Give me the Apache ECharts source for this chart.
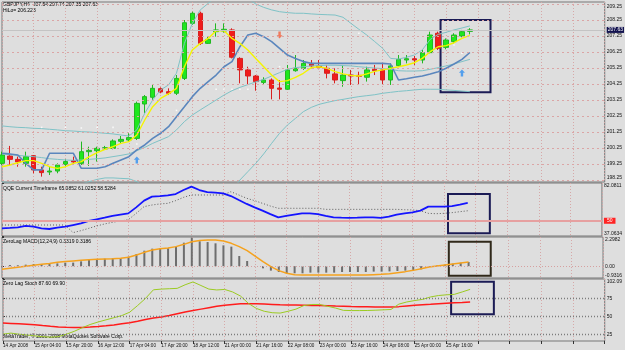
<!DOCTYPE html>
<html>
<head>
<meta charset="utf-8">
<script src="https://cdn.jsdelivr.net/npm/echarts@6/dist/echarts.min.js"></script>
<style>
  html, body { margin: 0; padding: 0; background: #dedede; }
  #chart { width: 625px; height: 350px; }
</style>
</head>
<body>
<div id="chart"></div>
<script>
// x axis labels, one every 4 bars (H4)
const tickLabels = ['14 Apr 2008', '15 Apr 04:00', '15 Apr 20:00', '16 Apr 12:00', '17 Apr 04:00',
  '17 Apr 20:00', '18 Apr 12:00', '21 Apr 00:00', '21 Apr 16:00', '22 Apr 08:00', '23 Apr 00:00',
  '23 Apr 16:00', '24 Apr 08:00', '25 Apr 00:00', '25 Apr 16:00'];
const priceTicks = [198.25, 199.25, 200.25, 201.25, 202.25, 203.25, 204.25, 205.25, 206.25, 207.25, 208.25, 209.25];
const qqeTicks = [37.0634, 82.0811];
const macdTicks = [-0.9316, 0, 2.2982];
const stochTicks = [15.49, 25, 50, 75, 102.09];
const stochLevels = [25, 50, 75];
const bidPrice = 207.63;

// GBPJPY H4 candles
const open = [199.29, 199.75, 199.54, 199.29, 199.77, 198.88, 198.75, 198.81, 199.23, 199.46,
  199.29, 200.02, 200.08, 200.19, 200.23, 200.67, 200.75, 200.85, 203.00, 203.42,
  203.96, 203.77, 203.67, 204.60, 208.04, 208.67, 206.79, 207.52, 207.56, 207.63,
  205.85, 205.13, 204.75, 204.35, 204.50, 204.00, 203.92, 205.08, 205.23, 205.50,
  205.38, 205.23, 204.88, 204.46, 204.81, 204.79, 204.67, 205.17, 205.13, 204.50,
  205.40, 205.75, 205.83, 205.75, 206.21, 207.42, 206.54, 206.90, 207.25, 207.54];
const high = [200.02, 200.38, 199.71, 200.02, 199.81, 199.08, 199.08, 199.29, 199.54, 199.71,
  200.65, 200.33, 200.33, 200.38, 200.79, 201.00, 201.17, 203.15, 203.56, 204.19,
  204.04, 203.98, 204.81, 208.25, 208.77, 208.77, 207.21, 208.04, 208.04, 207.73,
  205.92, 205.33, 204.81, 204.67, 204.60, 204.50, 205.44, 206.06, 205.75, 205.75,
  205.75, 205.44, 205.23, 205.44, 205.13, 205.02, 205.33, 205.44, 205.54, 205.54,
  206.06, 206.06, 206.00, 206.38, 207.52, 207.52, 207.10, 207.42, 207.63, 207.74];
const low = [199.19, 199.19, 199.08, 199.08, 198.67, 198.46, 198.56, 198.67, 199.13, 199.19,
  199.19, 199.13, 199.40, 200.13, 200.17, 200.54, 200.65, 200.75, 202.42, 203.25,
  203.67, 203.56, 203.56, 204.50, 207.94, 206.69, 206.75, 207.21, 207.46, 205.85,
  204.29, 204.19, 203.83, 204.19, 203.29, 203.29, 203.88, 205.02, 205.13, 205.23,
  205.17, 204.60, 204.29, 204.08, 204.19, 204.19, 204.40, 204.81, 204.19, 204.19,
  205.33, 205.54, 205.44, 205.54, 206.17, 206.38, 206.42, 206.79, 207.17, 207.35];
const close = [199.81, 199.54, 199.38, 199.71, 198.88, 198.71, 198.81, 199.19, 199.40, 199.38,
  200.02, 200.10, 200.23, 200.27, 200.69, 200.79, 200.90, 203.04, 203.46, 203.98,
  203.75, 203.67, 204.60, 208.08, 208.67, 206.79, 207.04, 207.63, 207.67, 205.92,
  205.13, 204.75, 204.40, 204.50, 203.98, 203.92, 205.13, 205.23, 205.54, 205.38,
  205.29, 204.92, 204.50, 204.81, 204.75, 204.73, 205.13, 205.08, 204.50, 205.38,
  205.79, 205.83, 205.75, 206.21, 207.31, 206.48, 207.00, 207.31, 207.52, 207.63];

// overlays on price
const hiloLine = [199.92, 199.88, 199.81, 199.29, 198.88, 198.88, 199.92, 199.92, 199.92, 199.92,
  198.98, 198.98, 198.98, 199.08, 199.29, 199.50, 199.71, 200.13, 200.44, 200.85,
  201.17, 201.58, 202.21, 202.83, 203.46, 203.98, 204.40, 204.81, 205.33, 205.65,
  206.58, 207.31, 207.42, 207.21, 206.90, 206.48, 206.06, 205.85, 205.65, 205.54,
  205.54, 205.54, 205.54, 205.54, 205.54, 205.54, 205.54, 205.54, 205.54, 205.50,
  204.50, 204.58, 204.67, 204.75, 204.88, 205.02, 205.23, 205.50, 205.79, 206.22];
const maLine = [199.08, 199.19, 199.33, 199.46, 199.46, 199.29, 199.08, 198.98, 199.08, 199.29,
  199.40, 199.71, 199.96, 200.17, 200.33, 200.54, 200.65, 201.06, 202.00, 202.83,
  203.35, 203.63, 203.98, 205.33, 206.38, 206.79, 207.10, 207.58, 207.58, 207.10,
  206.79, 206.38, 205.85, 205.33, 204.81, 204.40, 204.46, 204.67, 204.92, 205.27,
  205.33, 205.23, 205.02, 204.88, 204.79, 204.75, 204.88, 205.04, 205.13, 205.23,
  205.33, 205.44, 205.58, 205.85, 206.27, 206.58, 206.65, 206.83, 207.10, 207.29];
const bbUpper = [201.63, 201.58, 201.54, 201.52, 201.48, 201.46, 201.42, 201.38, 201.33, 201.31,
  201.27, 201.25, 201.21, 201.17, 201.13, 201.06, 201.00, 201.38, 202.42, 203.25,
  203.88, 204.19, 204.92, 206.79, 208.04, 208.88, 209.29, 209.71, 210.02, 210.02,
  209.81, 209.60, 209.25, 209.04, 208.88, 208.77, 208.71, 208.67, 208.67, 208.63,
  208.60, 208.58, 208.56, 208.42, 208.04, 207.67, 207.31, 206.90, 206.48, 205.85,
  205.81, 205.92, 206.06, 206.38, 207.04, 207.35, 207.48, 207.63, 207.75, 207.88];
const bbMiddle = [199.88, 199.83, 199.79, 199.75, 199.71, 199.65, 199.58, 199.54, 199.50, 199.48,
  199.50, 199.54, 199.58, 199.63, 199.71, 199.79, 199.88, 200.08, 200.29, 200.54,
  200.75, 200.96, 201.38, 201.90, 202.31, 202.63, 202.94, 203.25, 203.56, 203.83,
  204.04, 204.21, 204.38, 204.54, 204.75, 204.96, 205.17, 205.27, 205.33, 205.38,
  205.40, 205.42, 205.42, 205.40, 205.38, 205.33, 205.29, 205.25, 205.21, 205.17,
  205.08, 205.06, 205.06, 205.08, 205.17, 205.27, 205.38, 205.50, 205.65, 205.79];
const bbLower = [198.13, 198.08, 198.04, 198.00, 197.94, 197.88, 197.79, 197.73, 197.71, 197.83,
  198.00, 198.15, 198.29, 198.38, 198.38, 198.35, 198.33, 198.15, 197.83, 197.42,
  197.00, 196.58, 195.96, 194.92, 194.08, 193.67, 194.20, 195.00, 196.20, 197.60,
  198.25, 198.77, 199.29, 199.88, 200.54, 201.17, 201.69, 202.10, 202.52, 202.79,
  202.98, 203.10, 203.21, 203.29, 203.38, 203.46, 203.52, 203.58, 203.67, 203.73,
  203.79, 203.83, 203.88, 203.92, 203.92, 203.92, 203.88, 203.85, 203.81, 203.77];
// faint white stop dots [bar, price]
const stopDots = [[5, 201.54], [8, 201.54], [10, 201.50], [12, 201.54], [14, 201.54], [16, 201.25],
  [17, 200.50], [22, 202.60], [27, 203.92], [28, 203.92], [29, 203.92], [30, 203.92], [31, 203.92],
  [35, 205.33], [40, 207.42], [45, 207.42], [57, 206.69], [58, 206.17]];
const arrowsUp = [[17, 199.50], [58, 204.94]];
const arrowsDown = [[35, 207.31]];

// QQE
const qqeLine = [43.6, 43.9, 44.4, 45.6, 45.0, 43.6, 43.0, 44.2, 45.0, 46.4,
  47.8, 49.8, 51.2, 52.6, 54.1, 55.2, 56.3, 61.4, 67.1, 70.5,
  71.0, 71.6, 72.7, 76.1, 79.0, 76.1, 74.4, 73.9, 73.3, 71.0,
  67.6, 64.3, 61.4, 58.6, 55.7, 52.9, 54.1, 55.2, 56.3, 56.3,
  55.7, 54.1, 52.9, 52.6, 52.4, 52.6, 52.9, 52.9, 52.4, 53.5,
  55.2, 56.3, 57.2, 58.6, 62.0, 62.0, 62.0, 62.5, 63.7, 65.1];
const qqeTrail = [46.4, 46.4, 46.4, 46.4, 46.4, 46.4, 46.4, 46.4, 46.4, 39.9,
  41.6, 43.6, 45.6, 47.3, 48.7, 49.8, 50.9, 56.3, 62.0, 63.4,
  64.3, 64.8, 67.1, 69.9, 71.9, 71.9, 71.9, 71.9, 71.9, 74.7,
  71.9, 69.1, 67.1, 64.8, 62.5, 60.6, 60.6, 60.6, 60.6, 60.6,
  60.6, 59.7, 59.7, 59.7, 59.7, 59.7, 59.7, 59.7, 59.7, 59.7,
  59.7, 59.4, 59.2, 58.6, 56.3, 56.0, 56.3, 56.9, 57.7, 58.5];

// ZeroLag MACD
const macdHist = [-0.09, 0.09, 0.07, 0.12, 0.17, 0.17, 0.22, 0.22, 0.28, 0.28,
  0.38, 0.49, 0.57, 0.59, 0.62, 0.64, 0.75, 0.96, 1.22, 1.38,
  1.41, 1.41, 1.54, 1.85, 2.25, 1.96, 1.90, 1.80, 1.64, 1.54,
  0.80, 0.41, 0.01, -0.17, -0.35, -0.46, -0.56, -0.56, -0.56, -0.51,
  -0.51, -0.51, -0.51, -0.46, -0.46, -0.46, -0.46, -0.43, -0.43, -0.41,
  -0.38, -0.35, -0.30, -0.25, -0.05, 0.05, 0.12, 0.20, 0.27, 0.33];
const macdSignal = [-0.25, -0.17, -0.09, -0.01, 0.07, 0.15, 0.22, 0.30, 0.36, 0.41,
  0.46, 0.51, 0.54, 0.57, 0.59, 0.62, 0.70, 0.88, 1.09, 1.27,
  1.38, 1.43, 1.54, 1.72, 1.93, 2.03, 2.06, 2.06, 1.98, 1.80,
  1.54, 1.22, 0.80, 0.36, -0.04, -0.35, -0.56, -0.67, -0.70, -0.70,
  -0.70, -0.70, -0.70, -0.70, -0.70, -0.70, -0.70, -0.67, -0.64, -0.59,
  -0.51, -0.43, -0.33, -0.20, -0.07, 0.01, 0.09, 0.17, 0.25, 0.32];

// Zero Lag Stoch
const stochMain = [25.1, 26.5, 25.0, 24.0, 22.7, 21.5, 20.9, 21.5, 25.0, 29.0,
  34.0, 38.5, 42.0, 45.0, 48.0, 51.0, 55.7, 65.0, 75.0, 87.0,
  88.0, 88.5, 89.0, 94.0, 98.0, 93.0, 88.0, 86.8, 87.5, 84.0,
  78.3, 68.0, 61.0, 57.0, 55.0, 54.5, 57.0, 60.0, 65.0, 66.5,
  66.5, 64.0, 61.5, 58.3, 58.0, 58.0, 58.1, 58.5, 59.0, 59.5,
  67.0, 70.0, 72.0, 73.6, 77.0, 79.0, 80.0, 80.6, 84.0, 87.6];
const stochSignal = [40.5, 40.0, 39.5, 39.0, 38.2, 37.0, 36.0, 35.2, 34.8, 34.5,
  34.5, 35.0, 35.8, 36.8, 38.0, 39.5, 41.0, 43.0, 45.5, 47.5,
  49.0, 51.0, 53.5, 56.0, 58.0, 60.0, 62.0, 64.0, 65.5, 66.5,
  67.5, 67.5, 67.5, 67.0, 66.5, 66.0, 65.6, 65.6, 65.5, 65.2,
  65.0, 64.7, 64.3, 64.0, 63.6, 63.3, 63.2, 63.0, 63.0, 63.0,
  63.5, 64.5, 65.5, 66.2, 66.8, 67.5, 68.2, 68.8, 69.3, 69.9];

// highlight boxes [bar from, value top, bar to, value bottom]
const boxMain = [55.3, 208.25, 61.6, 203.73];
const boxQqe = [56.5, 72.7, 61.8, 39.4];
const boxMacd = [56.5, 1.93, 61.8, -0.75];
const boxStoch = [56.6, 98.3, 62.0, 52.8];

const FONT = 'Liberation Sans';
const idx = arr => arr.map((v, i) => [i, v]);
const chart = echarts.init(document.getElementById('chart'));

const gridBase = { left: 2, right: 19, show: true, borderColor: '#767676', borderWidth: 1, backgroundColor: '#dedede' };
const xAxes = [0, 1, 2, 3].map(g => ({
  type: 'value', gridIndex: g, min: 0, max: 76, interval: 4,
  axisLine: { show: false },
  axisTick: { show: g === 3, length: 3, lineStyle: { color: '#333' } },
  axisLabel: {
    show: g === 3, align: 'left', margin: 2, fontSize: 4.6, fontFamily: FONT, color: '#111',
    formatter: v => tickLabels[v / 4] || ''
  },
  splitLine: { show: true, lineStyle: { color: '#d6a8a8', type: [1, 2], width: 1 } }
}));
const yBase = (g, min, max, ticks, fmt) => ({
  type: 'value', gridIndex: g, position: 'right', min, max,
  axisLine: { show: false },
  axisTick: { show: true, length: 2, customValues: ticks, lineStyle: { color: '#333' } },
  axisLabel: {
    customValues: ticks, fontSize: 5, fontFamily: FONT, color: '#111', margin: 2, formatter: fmt,
    verticalAlignMaxLabel: 'top', verticalAlignMinLabel: 'bottom'
  },
  splitLine: { show: false }
});
const box = (b, color) => ({
  silent: true,
  itemStyle: { color: 'rgba(0,0,0,0)', borderColor: color, borderWidth: 2 },
  data: [[{ coord: [b[0], b[1]] }, { coord: [b[2], b[3]] }]]
});
const line = (data, x, color, width, extra) => Object.assign({
  type: 'line', xAxisIndex: x, yAxisIndex: x, data: idx(data), showSymbol: false, silent: true,
  lineStyle: { color, width }
}, extra || {});
const arrowUp = 'path://M5,0 L10,5 L7,5 L7,11 L3,11 L3,5 L0,5 Z';
const arrowDown = 'path://M3,0 L7,0 L7,6 L10,6 L5,11 L0,6 L3,6 Z';

chart.setOption({
  animation: false,
  backgroundColor: '#dedede',
  grid: [
    Object.assign({ top: 2, height: 180 }, gridBase),
    Object.assign({ top: 183, height: 53 }, gridBase),
    Object.assign({ top: 237, height: 41 }, gridBase),
    Object.assign({ top: 279, height: 62 }, gridBase)
  ],
  xAxis: xAxes,
  yAxis: [
    yBase(0, 198.125, 209.375, priceTicks, v => v.toFixed(2)),
    yBase(1, 37.0634, 82.0811, qqeTicks, v => v.toFixed(4)),
    yBase(2, -0.9316, 2.2982, macdTicks, v => (v === 0 ? '0.00' : v.toFixed(4))),
    yBase(3, 15.49, 102.09, stochTicks, v => (Number.isInteger(v) ? String(v) : v.toFixed(2)))
  ],
  graphic: [
    { type: 'text', left: 3, top: 2, style: { text: 'GBPJPY,H4  207.54 207.74 207.35 207.63', font: '5px "Liberation Sans"', fill: '#000' } },
    { type: 'text', left: 3, top: 8, style: { text: 'HiLo= 206.223', font: '5px "Liberation Sans"', fill: '#000' } },
    { type: 'text', left: 3, top: 186, style: { text: 'QQE Current Timeframe 65.0852 61.0252 58.5284', font: '5px "Liberation Sans"', fill: '#000' } },
    { type: 'text', left: 3, top: 239.5, style: { text: 'ZeroLag MACD(12,24,9) 0.3319 0.3186', font: '5px "Liberation Sans"', fill: '#000' } },
    { type: 'text', left: 3, top: 281.5, style: { text: 'Zero Lag Stoch 87.60 69.90', font: '5px "Liberation Sans"', fill: '#000' } },
    { type: 'text', left: 3, top: 334.5, style: { text: 'MetaTrader, \u00a9 2001-2008 MetaQuotes Software Corp.', font: '5px "Liberation Sans"', fill: '#000' } }
  ],
  series: [
    line(bbUpper, 0, '#7fc2c6', 1),
    line(bbMiddle, 0, '#7fc2c6', 1),
    line(bbLower, 0, '#7fc2c6', 1),
    line(hiloLine, 0, '#5a86bd', 1.6),
    {
      type: 'candlestick', xAxisIndex: 0, yAxisIndex: 0, silent: true, barWidth: 5,
      data: open.map((o, i) => [i, o, close[i], low[i], high[i]]),
      encode: { x: 0, y: [1, 2, 3, 4] },
      itemStyle: { color: '#1ee81e', color0: '#f01c1c', borderColor: '#22b822', borderColor0: '#d82020', borderWidth: 1 },
      markLine: {
        silent: true, symbol: 'none', animation: false,
        data: priceTicks.map(v => ({
          yAxis: v, label: { show: false },
          lineStyle: { color: '#dba5a5', type: [2, 3], width: 1 }
        })).concat([{
          yAxis: bidPrice,
          lineStyle: { color: '#c4c4c4', type: 'solid', width: 1 },
          label: {
            show: true, position: 'end', distance: 2, formatter: bidPrice.toFixed(2),
            backgroundColor: '#12124e', color: '#ffffff', fontSize: 5, fontFamily: FONT, padding: [1, 1, 0, 1]
          }
        }])
      },
      markArea: box(boxMain, '#1b1b55')
    },
    line(maLine, 0, '#f4f400', 1.4),
    {
      type: 'scatter', xAxisIndex: 0, yAxisIndex: 0, silent: true, data: stopDots,
      symbol: 'rect', symbolSize: 1.6, itemStyle: { color: '#ffffff' }
    },
    {
      type: 'scatter', xAxisIndex: 0, yAxisIndex: 0, silent: true, data: arrowsUp,
      symbol: arrowUp, symbolSize: [6, 7], itemStyle: { color: '#2f8ff0' }
    },
    {
      type: 'scatter', xAxisIndex: 0, yAxisIndex: 0, silent: true, data: arrowsDown,
      symbol: arrowDown, symbolSize: [6, 7], itemStyle: { color: '#f4603c' }
    },

    // QQE
    line(qqeTrail, 1, '#5c5c5c', 1, { lineStyle: { color: '#5c5c5c', width: 1, type: [1, 2] } }),
    line(qqeLine, 1, '#1414ff', 1.8, {
      markLine: {
        silent: true, symbol: 'none',
        data: [{
          yAxis: 50,
          lineStyle: { color: '#e6a0a0', width: 2, type: 'solid' },
          label: {
            show: true, position: 'end', distance: 2, formatter: '50',
            backgroundColor: '#ff2424', color: '#ffffff', fontSize: 5, fontFamily: FONT, padding: [1, 3, 0, 3]
          }
        }]
      },
      markArea: box(boxQqe, '#1b1b55')
    }),

    // MACD
    {
      type: 'bar', xAxisIndex: 2, yAxisIndex: 2, silent: true, data: idx(macdHist), barWidth: 2,
      itemStyle: { color: '#6e6e6e' },
      markLine: {
        silent: true, symbol: 'none', label: { show: false },
        data: [{ yAxis: 0 }],
        lineStyle: { color: '#d6a0a0', type: [1, 2], width: 1 }
      }
    },
    line(macdSignal, 2, '#f5a21e', 1.5, { markArea: box(boxMacd, '#30291a') }),

    // Stoch
    line(stochSignal, 3, '#ff1c1c', 1.5, {
      markLine: {
        silent: true, symbol: 'none', label: { show: false },
        data: stochLevels.map(v => ({ yAxis: v })),
        lineStyle: { color: '#7c7c7c', type: [1, 2], width: 1.4 }
      }
    }),
    line(stochMain, 3, '#9ccb22', 1, { markArea: box(boxStoch, '#1b1b55') })
  ]
});
</script>
</body>
</html>
